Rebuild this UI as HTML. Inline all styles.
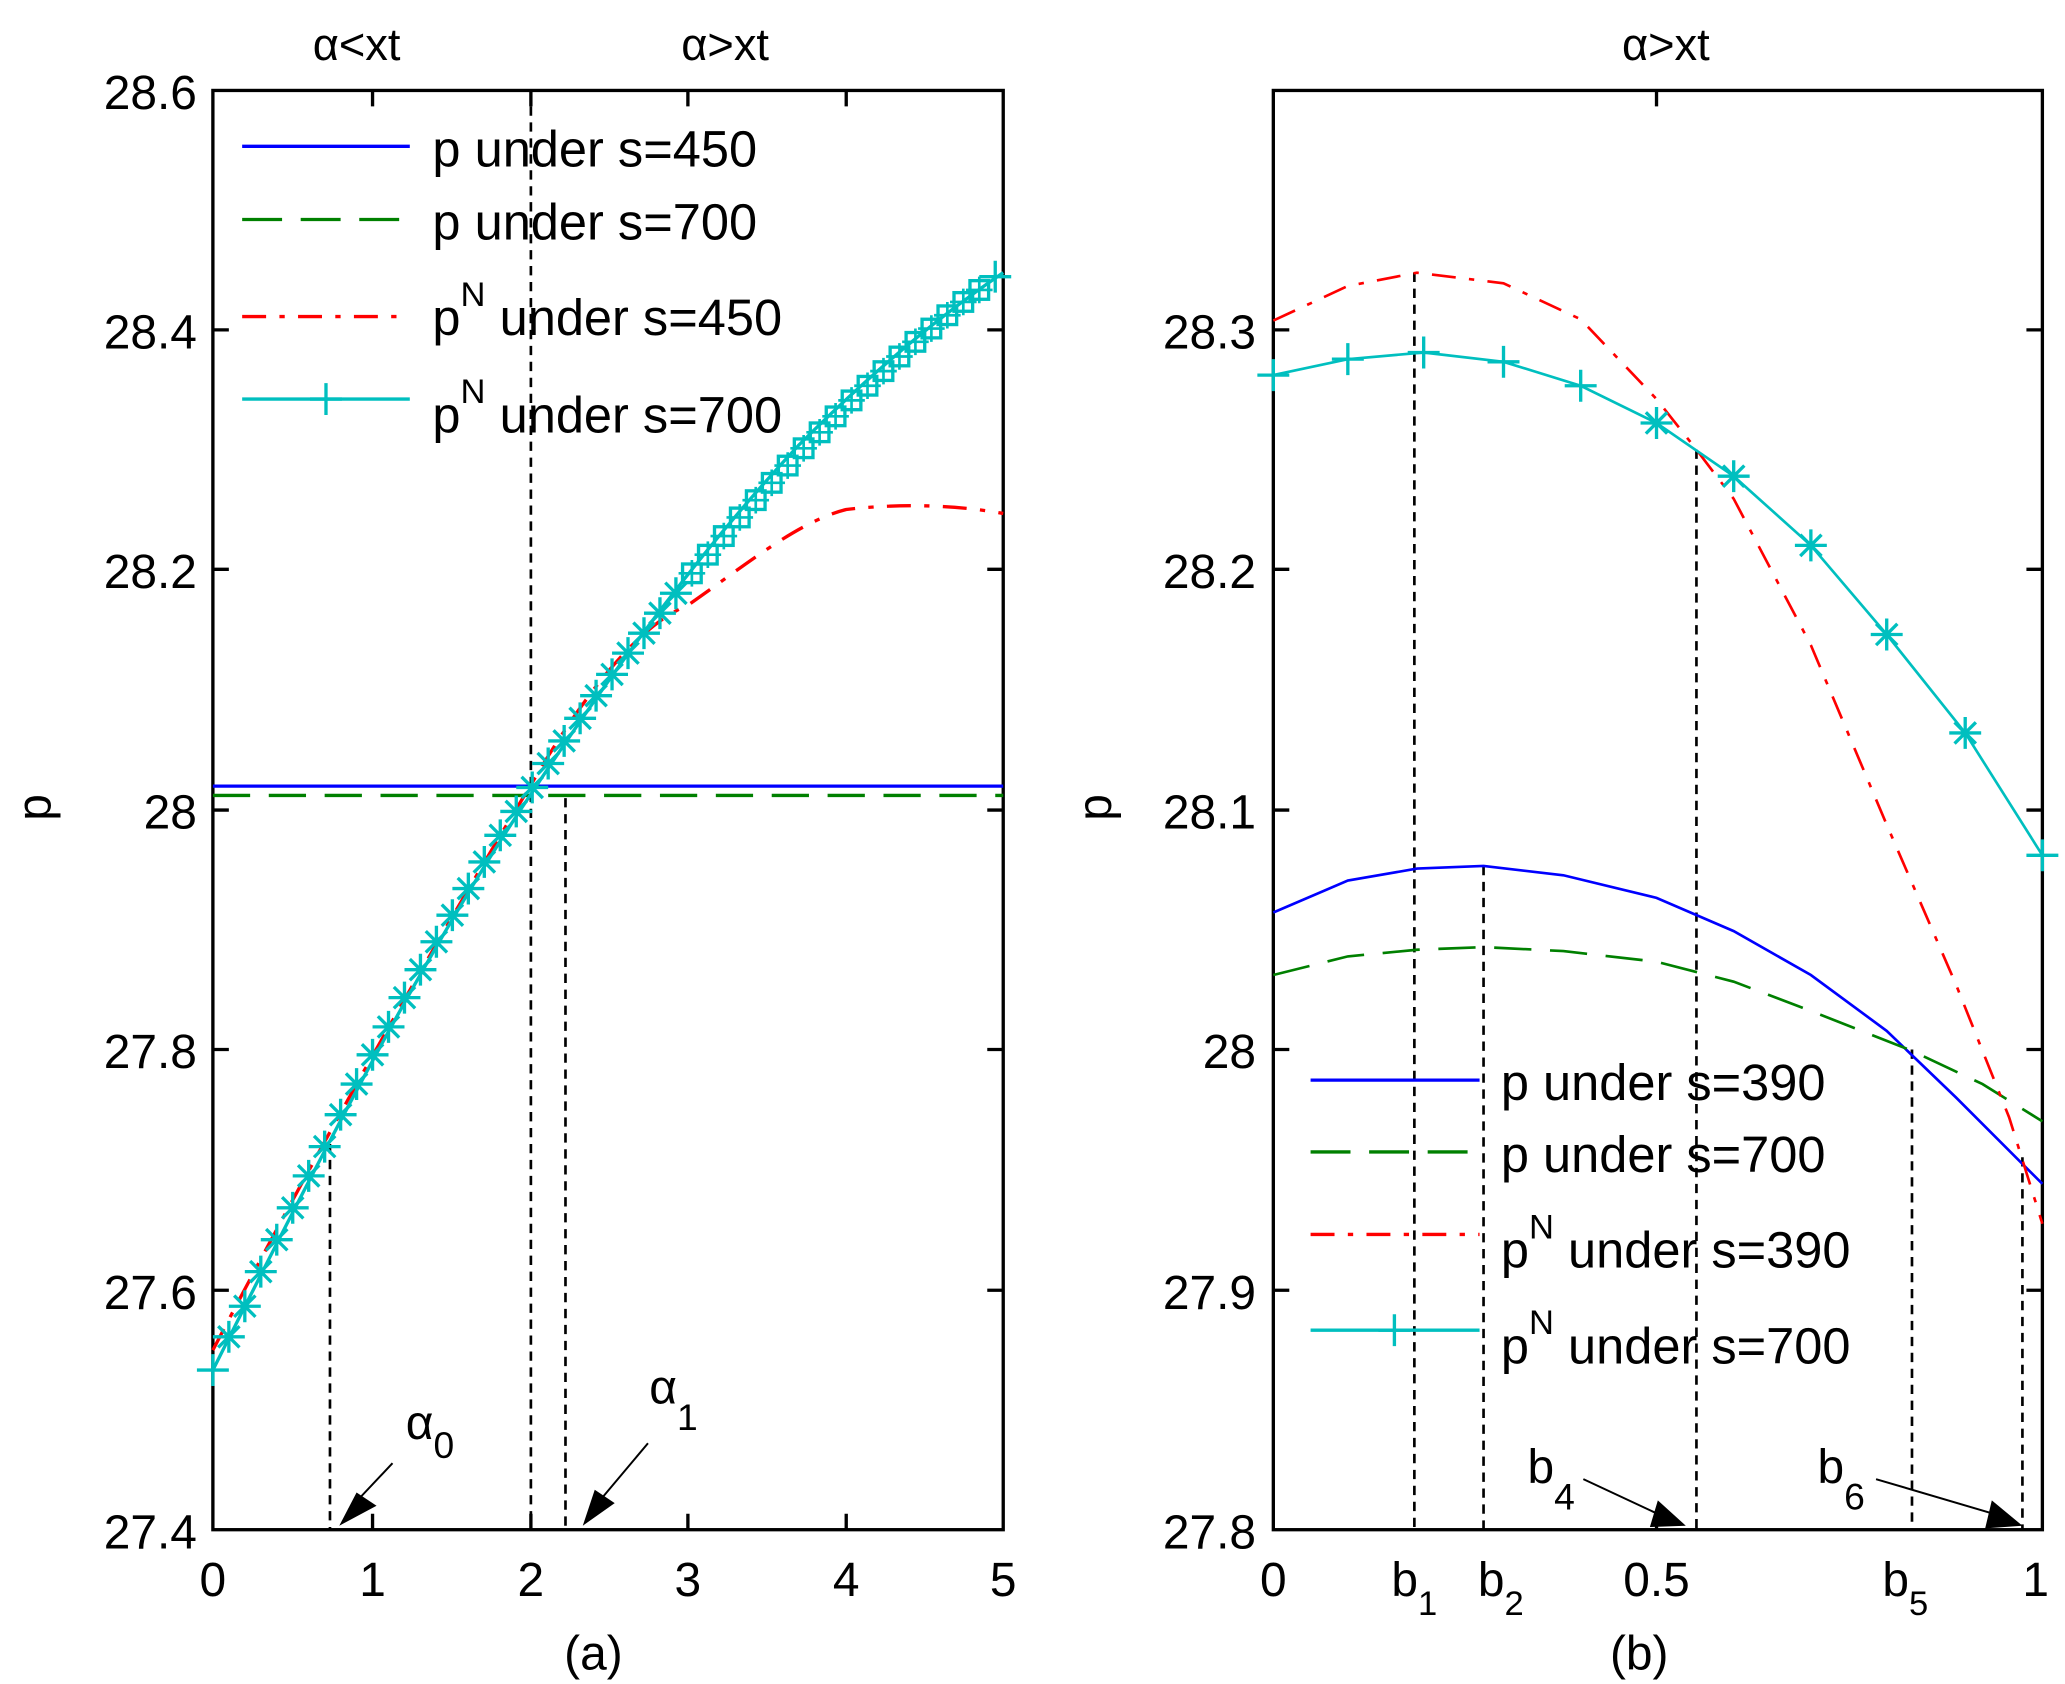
<!DOCTYPE html>
<html><head><meta charset="utf-8"><style>html,body{margin:0;padding:0;background:#fff}svg{display:block}</style></head>
<body>
<svg width="2065" height="1684" viewBox="0 0 1552 1266" preserveAspectRatio="none" xmlns="http://www.w3.org/2000/svg" font-family="Liberation Sans, sans-serif">
<defs>
<g id="pl"><path d="M-12 0H12M0 -12V12" stroke="#00bfbf" stroke-width="2.5"/></g>
<g id="px"><path d="M-8 -8L8 8M-8 8L8 -8M-12 0H12M0 -12V12" stroke="#00bfbf" stroke-width="2.5"/></g>
<g id="po"><rect x="-7" y="-7" width="14" height="14" fill="none" stroke="#00bfbf" stroke-width="2.5"/><path d="M-10 0H10M0 -10V10" stroke="#00bfbf" stroke-width="2"/></g>
</defs>
<g font-size="34" fill="#000">
<text x="268" y="45" text-anchor="middle">α&lt;xt</text>
<text x="545" y="45" text-anchor="middle">α&gt;xt</text>
<text x="1252" y="45" text-anchor="middle">α&gt;xt</text>
</g>
<!-- left axes -->
<g stroke="#000" stroke-width="2.5" fill="none">
<rect x="160" y="68" width="594" height="1082"/>
<path d="M280 68v12M399 68v12M517 68v12M636 68v12M280 1150v-12M399 1150v-12M517 1150v-12M636 1150v-12"/>
<path d="M160 248h12M160 428h12M160 609h12M160 789h12M160 970h12M754 248h-12M754 428h-12M754 609h-12M754 789h-12M754 970h-12"/>
<rect x="957" y="68" width="578" height="1082"/>
<path d="M957 248h12M957 428h12M957 609h12M957 789h12M957 970h12M1535 248h-12M1535 428h-12M1535 609h-12M1535 789h-12M1535 970h-12M1245 68v12M1245 1150v-12"/>
</g>
<g font-size="36" fill="#000" text-anchor="end">
<text x="148" y="82">28.6</text><text x="148" y="262">28.4</text><text x="148" y="442">28.2</text><text x="148" y="623">28</text><text x="148" y="803">27.8</text><text x="148" y="984">27.6</text><text x="148" y="1164">27.4</text>
<text x="944" y="262">28.3</text><text x="944" y="442">28.2</text><text x="944" y="623">28.1</text><text x="944" y="803">28</text><text x="944" y="984">27.9</text><text x="944" y="1164">27.8</text>
</g>
<g font-size="36" fill="#000" text-anchor="middle">
<text x="160" y="1200">0</text><text x="280" y="1200">1</text><text x="399" y="1200">2</text><text x="517" y="1200">3</text><text x="636" y="1200">4</text><text x="754" y="1200">5</text>
<text x="446" y="1255">(a)</text>
<text x="957" y="1200">0</text><text x="1245" y="1200">0.5</text><text x="1530" y="1200">1</text>
<text x="1063" y="1200">b<tspan font-size="26" dy="14">1</tspan></text>
<text x="1128" y="1200">b<tspan font-size="26" dy="14">2</tspan></text>
<text x="1432" y="1200">b<tspan font-size="26" dy="14">5</tspan></text>
<text x="1232" y="1255">(b)</text>
<text transform="translate(38,607) rotate(-90)">p</text>
<text transform="translate(835,607) rotate(-90)">p</text>
</g>
<!-- dotted verticals -->
<g stroke="#000" stroke-width="2" stroke-dasharray="7,5">
<path d="M248 860V1150M399 68V1150M425 600V1150M1063 205V1150M1115 651V1150M1275 338V1150M1437 789V1150M1520 870V1150"/>
</g>
<!-- left series -->
<path d="M160 591H754" stroke="#0000ff" stroke-width="2.5"/>
<path d="M160 598H754" stroke="#008000" stroke-width="2.5" stroke-dasharray="28,14"/>
<path d="M160 1015 C230 880 320 720 399 590 C440 520 480 470 517 455 C560 425 600 392 636 383 C680 378 720 380 754 386" fill="none" stroke="#ff0000" stroke-width="2.5" stroke-dasharray="18,10,4,10"/>
<path id="cy" d="M160 1030 C260 830 330 700 399 597 C470 490 530 410 600 335 C660 275 710 235 754 205" fill="none" stroke="#00bfbf" stroke-width="2.5"/>
<g>
<use href="#pl" x="160" y="1030"/><use href="#px" x="172" y="1005"/><use href="#px" x="184" y="982"/><use href="#px" x="196" y="956"/><use href="#px" x="208" y="932"/><use href="#px" x="220" y="908"/><use href="#px" x="232" y="884"/><use href="#px" x="244" y="862"/><use href="#px" x="256" y="838"/><use href="#px" x="268" y="815"/><use href="#px" x="280" y="793"/><use href="#px" x="292" y="772"/><use href="#px" x="304" y="750"/><use href="#px" x="316" y="729"/><use href="#px" x="328" y="708"/><use href="#px" x="340" y="688"/><use href="#px" x="352" y="668"/><use href="#px" x="364" y="648"/><use href="#px" x="376" y="628"/><use href="#px" x="388" y="610"/><use href="#px" x="400" y="592"/><use href="#px" x="412" y="574"/><use href="#px" x="424" y="557"/><use href="#px" x="436" y="540"/><use href="#px" x="448" y="523"/><use href="#px" x="460" y="507"/><use href="#px" x="472" y="491"/><use href="#px" x="484" y="476"/><use href="#px" x="496" y="461"/><use href="#px" x="508" y="446"/><use href="#po" x="520" y="431"/><use href="#po" x="532" y="417"/><use href="#po" x="544" y="403"/><use href="#po" x="556" y="389"/><use href="#po" x="568" y="376"/><use href="#po" x="580" y="363"/><use href="#po" x="592" y="350"/><use href="#po" x="604" y="337"/><use href="#po" x="616" y="325"/><use href="#po" x="628" y="313"/><use href="#po" x="640" y="301"/><use href="#po" x="652" y="290"/><use href="#po" x="664" y="279"/><use href="#po" x="676" y="268"/><use href="#po" x="688" y="257"/><use href="#po" x="700" y="247"/><use href="#po" x="712" y="237"/><use href="#po" x="724" y="227"/><use href="#po" x="736" y="218"/><use href="#pl" x="748" y="208"/>
</g>
<!-- left legend -->
<path d="M182 110H308" stroke="#0000ff" stroke-width="2.5"/>
<path d="M182 165H308" stroke="#008000" stroke-width="2.5" stroke-dasharray="30,14"/>
<path d="M182 238H308" stroke="#ff0000" stroke-width="2.5" stroke-dasharray="18,10,4,10"/>
<path d="M182 300H308" stroke="#00bfbf" stroke-width="2.5"/><use href="#pl" x="245" y="300"/>
<g font-size="38" fill="#000">
<text x="325" y="125">p under s=450</text>
<text x="325" y="180">p under s=700</text>
<text x="325" y="252">p<tspan font-size="26" dy="-22">N</tspan><tspan dy="22"> under s=450</tspan></text>
<text x="325" y="325">p<tspan font-size="26" dy="-22">N</tspan><tspan dy="22"> under s=700</tspan></text>
</g>
<!-- arrows left -->
<g stroke="#000" stroke-width="1.5" fill="none"><path d="M295 1100L262 1135M487 1085L445 1135"/></g>
<path d="M255 1147L268 1122L283 1132Z M438 1147L447 1120L462 1130Z" fill="#000"/>
<g font-size="36" fill="#000">
<text x="305" y="1082">α<tspan font-size="28" dy="14">0</tspan></text>
<text x="488" y="1055">α<tspan font-size="28" dy="20">1</tspan></text>
<text x="1148" y="1115">b<tspan font-size="28" dy="20">4</tspan></text>
<text x="1366" y="1115">b<tspan font-size="28" dy="20">6</tspan></text>
</g>
<!-- right series -->
<polyline points="957,686 1013,662 1065,653 1115,651 1175,658 1245,675 1303,700 1361,733 1418,775 1470,825 1535,890" fill="none" stroke="#0000ff" stroke-width="2"/>
<polyline points="957,733 1013,719 1065,714 1115,712 1175,715 1245,723 1303,738 1361,760 1437,790 1490,815 1535,843" fill="none" stroke="#008000" stroke-width="2" stroke-dasharray="28,14"/>
<polyline points="957,241 1013,215 1065,205 1130,213 1188,240 1245,300 1275,338 1303,375 1361,485 1418,620 1470,740 1510,840 1535,920" fill="none" stroke="#ff0000" stroke-width="2" stroke-dasharray="18,10,4,10"/>
<polyline points="957,282 1013,270 1070,265 1130,272 1188,290 1245,318 1303,358 1361,410 1418,477 1477,551 1535,643" fill="none" stroke="#00bfbf" stroke-width="2"/>
<g><use href="#pl" x="957" y="282"/><use href="#pl" x="1013" y="270"/><use href="#pl" x="1070" y="265"/><use href="#pl" x="1130" y="272"/><use href="#pl" x="1188" y="290"/><use href="#px" x="1245" y="318"/><use href="#px" x="1303" y="358"/><use href="#px" x="1361" y="410"/><use href="#px" x="1418" y="477"/><use href="#px" x="1477" y="551"/><use href="#pl" x="1535" y="643"/></g>
<!-- right legend -->
<path d="M985 812H1112" stroke="#0000ff" stroke-width="2.5"/>
<path d="M985 866H1112" stroke="#008000" stroke-width="2.5" stroke-dasharray="30,14"/>
<path d="M985 928H1112" stroke="#ff0000" stroke-width="2.5" stroke-dasharray="18,10,4,10"/>
<path d="M985 1000H1112" stroke="#00bfbf" stroke-width="2.5"/><use href="#pl" x="1048" y="1000"/>
<g font-size="38" fill="#000">
<text x="1128" y="827">p under s=390</text>
<text x="1128" y="881">p under s=700</text>
<text x="1128" y="953">p<tspan font-size="26" dy="-22">N</tspan><tspan dy="22"> under s=390</tspan></text>
<text x="1128" y="1025">p<tspan font-size="26" dy="-22">N</tspan><tspan dy="22"> under s=700</tspan></text>
</g>
<!-- arrows right -->
<g stroke="#000" stroke-width="1.5" fill="none"><path d="M1190 1112L1250 1140M1410 1112L1505 1140"/></g>
<path d="M1267 1147L1240 1148L1246 1128Z M1520 1147L1492 1149L1497 1128Z" fill="#000"/>
</svg>
</body></html>
